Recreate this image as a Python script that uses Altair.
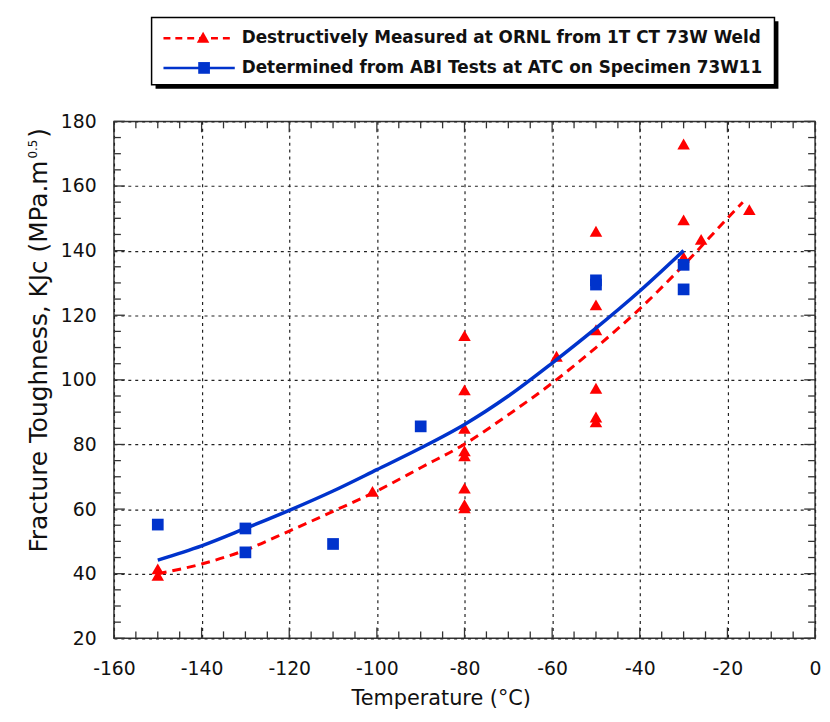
import altair as alt
import pandas as pd

# ---------------- data ----------------
tri_T = [-150, -150, -101, -80, -80, -80, -80, -80, -80, -80, -80, -59,
         -50, -50, -50, -50, -50, -50, -30, -30, -30, -26, -15]
tri_K = [41.5, 39.5, 65.5, 113.7, 96.9, 85.0, 78.0, 76.5, 66.5, 61.4, 60.4, 107.3,
         146.0, 123.2, 115.5, 97.4, 88.5, 87.0, 173.0, 149.5, 138.0, 143.5, 152.7]

sq_T = [-150, -130, -130, -110, -90, -50, -50, -30, -30]
sq_K = [55.2, 54.0, 46.6, 49.2, 85.6, 130.8, 129.5, 135.6, 128.0]

red_T = [-150, -140, -130, -120, -110, -100, -90, -80, -70, -60, -50, -40, -30, -20, -16.5]
red_K = [40.0, 43.0, 47.3, 53.2, 59.3, 65.6, 72.8, 80.1, 89.2, 99.0, 110.0, 122.0, 135.5, 150.0, 155.0]

blue_T = [-150, -140, -130, -120, -110, -100, -90, -80, -70, -60, -50, -40, -30]
blue_K = [44.2, 48.6, 54.0, 59.6, 65.6, 72.2, 78.9, 86.2, 95.0, 105.2, 116.0, 127.5, 140.0]

x_values = list(range(-160, 1, 20))
y_values = list(range(20, 181, 20))
x_minor = [v for v in range(-160, 1, 5) if v % 20 != 0]
y_minor = [v for v in range(20, 181, 5) if v % 20 != 0]

legend_labels = ["Destructively Measured at ORNL from 1T CT 73W Weld",
                 "Determined from ABI Tests at ATC on Specimen 73W11"]
x_title = "Temperature (°C)"
y_title_parts = ["Fracture Toughness, KJc (MPa.m", "0.5", ")"]

# ---------------- style ----------------
W, H = 708, 522
FONT = "DejaVu Sans"
RED = "#ff0000"
BLUE = "#0033cc"
INK = "#111111"
GRID = "#222222"

xs = alt.Scale(domain=[-160, 0], nice=False, zero=False)
ys = alt.Scale(domain=[20, 180], nice=False, zero=False)

xaxis = alt.Axis(values=x_values, title=x_title, grid=True, ticks=False, tickSize=0,
                 domain=False, labelFont=FONT, labelFontSize=19, labelColor=INK,
                 labelPadding=37, labelBaseline="alphabetic", labelFlush=False,
                 labelOverlap=False, labelExpr="'' + datum.value",
                 titleFont=FONT, titleFontSize=21,
                 titleFontWeight="normal", titleColor=INK, titleX=330, titleY=67,
                 titleBaseline="alphabetic", gridColor=GRID, gridDash=[3, 4],
                 gridWidth=1.2, gridOpacity=1)
yaxis = alt.Axis(values=y_values, title="", grid=True, ticks=False, tickSize=0,
                 domain=False, labelFont=FONT, labelFontSize=19, labelColor=INK,
                 labelPadding=18, labelFlush=False, labelOverlap=False,
                 gridColor=GRID, gridDash=[3, 4], gridWidth=1.2, gridOpacity=1)

X = lambda: alt.X("T:Q", scale=xs, axis=xaxis)
Y = lambda: alt.Y("K:Q", scale=ys, axis=yaxis)

red_df = pd.DataFrame({"T": red_T, "K": red_K})
blue_df = pd.DataFrame({"T": blue_T, "K": blue_K})
tri_df = pd.DataFrame({"T": tri_T, "K": tri_K})
sq_df = pd.DataFrame({"T": sq_T, "K": sq_K})

red_line = alt.Chart(red_df).mark_line(color=RED, strokeWidth=3, strokeDash=[9, 6],
                                       interpolate="monotone").encode(x=X(), y=Y())
blue_line = alt.Chart(blue_df).mark_line(color=BLUE, strokeWidth=3.5,
                                         interpolate="monotone").encode(x=X(), y=Y())
tris = alt.Chart(tri_df).mark_point(shape="triangle-up", filled=True, size=160,
                                    color=RED, opacity=1, strokeWidth=0).encode(x=X(), y=Y())
squares = alt.Chart(sq_df).mark_square(size=140, color=BLUE, opacity=1).encode(x=X(), y=Y())

# inward ticks on all four sides
def xticks(vals, length):
    d = pd.DataFrame({"T": vals})
    base = alt.Chart(d).mark_rule(color="#333333", strokeWidth=1.3)
    bottom = base.encode(x=X(), y=alt.value(H), y2=alt.value(H - length))
    top = base.encode(x=X(), y=alt.value(0), y2=alt.value(length))
    return [bottom, top]

def yticks(vals, length):
    d = pd.DataFrame({"K": vals})
    base = alt.Chart(d).mark_rule(color="#333333", strokeWidth=1.3)
    left = base.encode(y=Y(), x=alt.value(0), x2=alt.value(length))
    right = base.encode(y=Y(), x=alt.value(W), x2=alt.value(W - length))
    return [left, right]

ticks = xticks(x_values, 11) + xticks(x_minor, 7) + yticks(y_values, 11) + yticks(y_minor, 7)

# y-axis title with superscript
one = pd.DataFrame({"t": [0]})
ytitle_main = alt.Chart(pd.DataFrame({"t": [y_title_parts[0]]})).mark_text(
    angle=270, align="right", baseline="alphabetic", font=FONT, fontSize=25, color=INK
).encode(x=alt.value(-68), y=alt.value(39.5), text="t:N")
ytitle_sup = alt.Chart(pd.DataFrame({"t": [y_title_parts[1]]})).mark_text(
    angle=270, align="left", baseline="alphabetic", font=FONT, fontSize=12, color=INK
).encode(x=alt.value(-78), y=alt.value(37.5), text="t:N")
ytitle_par = alt.Chart(pd.DataFrame({"t": [y_title_parts[2]]})).mark_text(
    angle=270, align="left", baseline="alphabetic", font=FONT, fontSize=25, color=INK
).encode(x=alt.value(-68), y=alt.value(16.5), text="t:N")

# legend box with drop shadow
shadow = alt.Chart(one).mark_rect(color="black").encode(
    x=alt.value(42), x2=alt.value(671), y=alt.value(-101), y2=alt.value(-33))
box = alt.Chart(one).mark_rect(fill="white", stroke="black", strokeWidth=1.5).encode(
    x=alt.value(38), x2=alt.value(667), y=alt.value(-105), y2=alt.value(-37))
leg_red_line = alt.Chart(one).mark_rule(color=RED, strokeWidth=2.5, strokeDash=[7, 5]).encode(
    x=alt.value(50), x2=alt.value(122), y=alt.value(-84))
leg_red_pt = alt.Chart(one).mark_point(shape="triangle-up", filled=True, size=160, color=RED,
                                       opacity=1, strokeWidth=0).encode(
    x=alt.value(90), y=alt.value(-85))
leg_blue_line = alt.Chart(one).mark_rule(color=BLUE, strokeWidth=2.5).encode(
    x=alt.value(50), x2=alt.value(122), y=alt.value(-54))
leg_blue_pt = alt.Chart(one).mark_square(size=140, color=BLUE, opacity=1).encode(
    x=alt.value(91), y=alt.value(-54))
leg_text1 = alt.Chart(pd.DataFrame({"t": [legend_labels[0]]})).mark_text(
    align="left", baseline="middle", font=FONT, fontSize=17, fontWeight="bold", color=INK
).encode(x=alt.value(129), y=alt.value(-84), text="t:N")
leg_text2 = alt.Chart(pd.DataFrame({"t": [legend_labels[1]]})).mark_text(
    align="left", baseline="middle", font=FONT, fontSize=17, fontWeight="bold", color=INK
).encode(x=alt.value(129), y=alt.value(-54), text="t:N")

chart = alt.layer(
    red_line, tris, blue_line, squares, *ticks,
    ytitle_main, ytitle_sup, ytitle_par,
    shadow, box, leg_red_line, leg_red_pt, leg_blue_line, leg_blue_pt, leg_text1, leg_text2
).properties(
    width=W, height=H,
    padding={"left": 107, "top": 111, "right": 7, "bottom": 80},
    autosize=alt.AutoSizeParams(type="none"),
    background="white",
).configure_view(stroke="#333333", strokeWidth=1.5)

chart.save("out.html", embed_options={"renderer": "svg", "actions": False})
